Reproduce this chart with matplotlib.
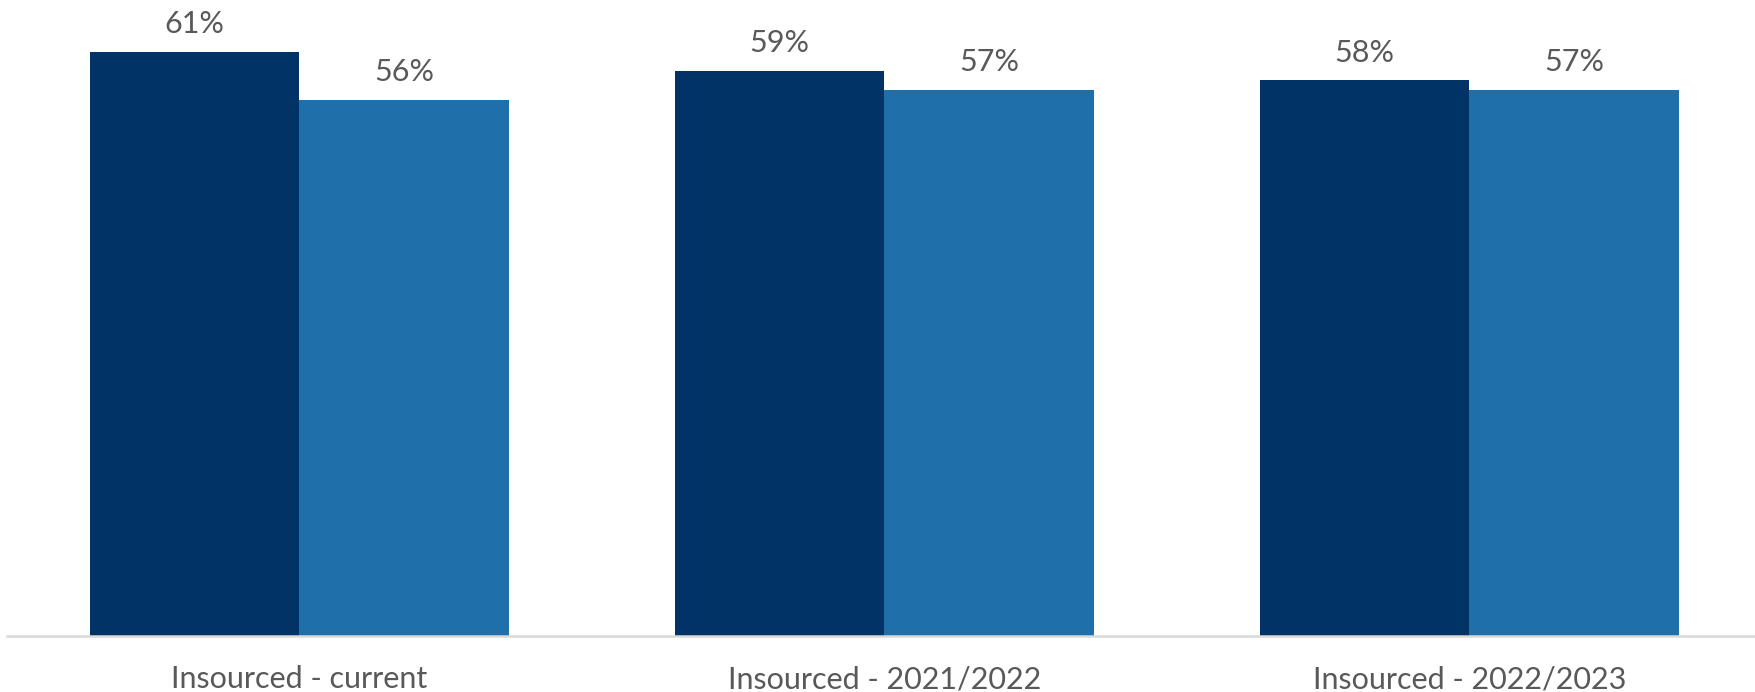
import matplotlib
matplotlib.use("Agg")
import matplotlib.pyplot as plt
import numpy as np

categories = ["Insourced - current", "Insourced - 2021/2022", "Insourced - 2022/2023"]
series_a = [61, 59, 58]
series_b = [56, 57, 57]

dark = "#023366"
light = "#1F70AA"
text_col = "#595959"

plt.rcParams["font.family"] = ["Lato", "DejaVu Sans"]

fig = plt.figure(figsize=(17.56, 6.92), dpi=100)
ax = fig.add_axes([7 / 1756, 1 - 636 / 692, 1 - 7 / 1756, 636 / 692])

x = np.arange(len(categories))
w = 0.358
bars_a = ax.bar(x - w / 2, series_a, width=w, color=dark, zorder=2)
bars_b = ax.bar(x + w / 2, series_b, width=w, color=light, zorder=2)

for bars, vals in ((bars_a, series_a), (bars_b, series_b)):
    for b, v in zip(bars, vals):
        ax.annotate(f"{v}%", (b.get_x() + b.get_width() / 2, v),
                    xytext=(0, 10), textcoords="offset points",
                    ha="center", va="bottom", fontsize=22, color=text_col)

ax.set_xlim(-0.5, 2.49)
ax.set_ylim(0, 66.4)
ax.set_yticks([])
ax.set_xticks(x)
ax.set_xticklabels(categories, fontsize=22, color=text_col)
ax.tick_params(axis="x", length=0, pad=21)
for s in ("top", "right", "left"):
    ax.spines[s].set_visible(False)
ax.spines["bottom"].set_color("#D9D9D9")
ax.spines["bottom"].set_linewidth(1.8)
ax.patch.set_alpha(0)

fig.savefig("out.png", dpi=100)
